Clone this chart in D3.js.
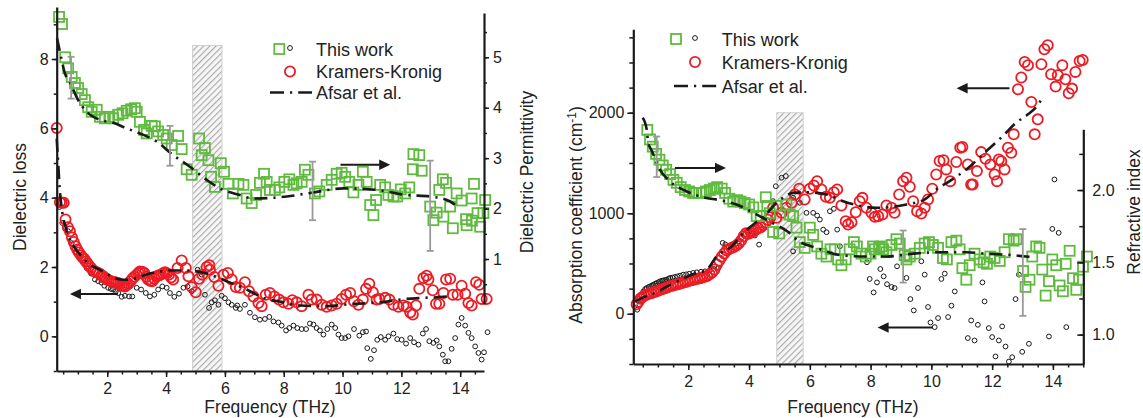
<!DOCTYPE html>
<html><head><meta charset="utf-8">
<script src="https://cdn.jsdelivr.net/npm/d3@7"></script>
<style>
body{margin:0;background:#fff}
text{font-family:"Liberation Sans",Arial,Helvetica,sans-serif;fill:#222}
</style>
</head><body>
<svg id="c" width="1143" height="418" xmlns="http://www.w3.org/2000/svg"></svg>
<script>
// ---------------- DATA (frequency THz, value) ----------------
// Left panel: dielectric permittivity (This work, right axis)
const permThisWork = [[0.36,5.80],[0.46,5.66],[0.57,5.00],[0.67,4.78],[0.79,4.61],[0.90,4.49],[1.01,4.39],[1.13,4.27],[1.24,4.15],[1.35,4.01],[1.47,3.92],[1.64,3.96],[1.75,3.82],[1.92,3.79],[2.07,3.82],[2.20,3.79],[2.37,3.86],[2.52,3.89],[2.66,3.94],[2.81,3.97],[2.94,3.99],[3.00,3.92],[3.11,3.72],[3.25,3.56],[3.34,3.49],[3.51,3.64],[3.62,3.63],[3.73,3.53],[3.90,3.46],[4.02,3.39],[4.19,3.26],[4.41,3.44],[4.53,3.18],[4.70,2.78],[4.87,2.67],[5.12,3.39],[5.21,3.06],[5.32,3.20],[5.44,2.96],[5.53,2.63],[5.66,2.43],[5.86,2.90],[5.97,2.73],[6.12,2.49],[6.27,2.30],[6.46,2.49],[6.63,2.47],[6.74,2.20],[6.91,2.11],[7.06,2.27],[7.19,2.51],[7.33,2.69],[7.42,2.53],[7.53,2.37],[7.70,2.37],[7.85,2.42],[8.02,2.53],[8.19,2.58],[8.33,2.47],[8.44,2.50],[8.61,2.53],[8.72,2.77],[8.84,2.67],[9.06,2.30],[9.21,2.34],[9.46,2.47],[9.63,2.57],[9.80,2.69],[9.97,2.71],[10.09,2.63],[10.23,2.53],[10.37,2.32],[10.54,2.47],[10.69,2.73],[10.82,2.53],[10.94,2.07],[11.05,1.87],[11.14,2.17],[11.28,2.47],[11.45,2.42],[11.56,2.27],[11.73,2.24],[11.86,2.24],[11.98,2.38],[12.13,2.30],[12.27,2.42],[12.39,2.78],[12.41,3.08],[12.61,3.06],[12.69,2.75],[12.98,2.04],[13.09,1.77],[13.20,1.92],[13.29,2.37],[13.41,2.58],[13.43,1.84],[13.52,2.51],[13.66,2.04],[13.75,1.61],[13.88,2.30],[14.05,2.16],[14.20,1.79],[14.22,1.67],[14.39,2.20],[14.40,1.76],[14.47,2.49],[14.59,1.91],[14.68,1.64],[14.79,1.91],[14.85,2.17]];
// Left panel: dielectric loss, Kramers-Kronig (left axis)
const lossKK = [[0.28,6.01],[0.39,3.87],[0.45,3.85],[0.52,3.85],[0.58,3.37],[0.66,3.15],[0.73,3.03],[0.80,2.85],[0.86,2.72],[0.92,2.60],[0.98,2.50],[1.04,2.42],[1.11,2.33],[1.17,2.27],[1.22,2.23],[1.28,2.16],[1.33,2.10],[1.39,2.03],[1.45,1.97],[1.52,1.90],[1.58,1.87],[1.66,1.84],[1.73,1.81],[1.80,1.76],[1.86,1.73],[1.92,1.68],[1.98,1.64],[2.05,1.62],[2.13,1.59],[2.19,1.57],[2.24,1.56],[2.30,1.55],[2.37,1.54],[2.43,1.50],[2.49,1.46],[2.55,1.45],[2.60,1.44],[2.66,1.48],[2.72,1.52],[2.79,1.59],[2.85,1.66],[2.92,1.72],[3.00,1.78],[3.06,1.83],[3.11,1.87],[3.19,1.86],[3.26,1.83],[3.33,1.72],[3.39,1.64],[3.46,1.60],[3.53,1.59],[3.60,1.66],[3.68,1.73],[3.76,1.76],[3.83,1.78],[3.90,1.82],[3.96,1.85],[4.03,1.82],[4.10,1.78],[4.17,1.70],[4.24,1.64],[4.39,1.97],[4.53,2.19],[4.67,1.97],[4.76,1.73],[4.87,1.42],[5.01,1.27],[5.12,1.66],[5.23,1.78],[5.38,2.00],[5.47,2.05],[5.49,1.92],[5.64,1.71],[5.78,1.46],[5.95,1.78],[6.10,1.83],[6.23,1.64],[6.37,1.42],[6.51,1.40],[6.68,1.56],[6.82,1.30],[6.97,1.15],[7.14,0.96],[7.25,0.87],[7.39,1.20],[7.53,1.25],[7.68,1.15],[7.84,1.06],[7.99,0.98],[8.16,0.94],[8.29,1.04],[8.44,0.98],[8.61,0.87],[8.84,1.20],[8.95,1.06],[9.12,1.06],[9.29,0.91],[9.46,0.85],[9.63,0.89],[9.80,0.94],[9.97,1.08],[10.12,1.20],[10.26,1.25],[10.39,1.01],[10.54,0.91],[10.69,1.06],[10.80,1.37],[10.91,1.52],[11.03,1.27],[11.16,1.06],[11.25,1.08],[11.45,1.11],[11.59,1.06],[11.73,0.91],[11.90,0.85],[12.07,0.89],[12.18,0.85],[12.30,0.69],[12.39,0.63],[12.50,0.89],[12.61,1.37],[12.75,1.68],[12.86,1.75],[12.92,1.64],[13.07,1.33],[13.18,0.94],[13.29,0.94],[13.43,1.25],[13.52,1.64],[13.66,1.66],[13.75,1.20],[13.91,1.20],[14.05,1.46],[14.17,1.23],[14.28,0.96],[14.39,0.89],[14.54,1.56],[14.65,1.49],[14.73,1.08],[14.90,1.08]];
// Left panel: dielectric loss, This work (left axis)
const lossThisWork = [[0.37,3.73],[0.47,3.27],[0.57,3.15],[0.67,3.03],[0.79,2.69],[0.92,2.45],[1.04,2.29],[1.18,2.12],[1.30,1.97],[1.45,1.81],[1.58,1.64],[1.69,1.59],[1.80,1.55],[1.90,1.46],[2.03,1.40],[2.12,1.37],[2.20,1.35],[2.29,1.30],[2.37,1.25],[2.49,1.14],[2.60,1.17],[2.74,1.15],[2.85,1.15],[3.00,1.40],[3.15,1.35],[3.31,1.25],[3.45,1.15],[3.60,1.20],[3.73,1.35],[3.87,1.44],[4.02,1.40],[4.13,1.25],[4.28,1.14],[4.44,1.23],[4.59,1.40],[4.73,1.44],[4.87,1.30],[5.07,1.92],[5.21,1.78],[5.32,1.20],[5.46,0.82],[5.55,0.98],[5.66,1.04],[5.78,0.91],[5.89,1.17],[6.00,1.10],[6.12,0.98],[6.23,0.91],[6.37,0.82],[6.42,0.89],[6.51,0.79],[6.68,0.91],[6.85,0.68],[7.02,0.55],[7.19,0.48],[7.36,0.50],[7.51,0.56],[7.65,0.43],[7.82,0.40],[7.93,0.31],[8.08,0.17],[8.19,0.24],[8.33,0.31],[8.46,0.24],[8.61,0.21],[8.76,0.21],[8.89,0.37],[9.01,0.34],[9.12,0.24],[9.23,0.17],[9.35,0.05],[9.48,0.21],[9.63,0.34],[9.75,0.24],[9.86,0.05],[9.97,-0.05],[10.09,-0.05],[10.20,0.00],[10.39,0.21],[10.57,0.02],[10.69,0.12],[10.80,0.14],[10.84,-0.34],[10.96,-0.65],[11.07,-0.40],[11.18,-0.10],[11.30,-0.02],[11.45,-0.10],[11.56,0.00],[11.73,0.08],[11.86,-0.08],[12.01,-0.10],[12.16,-0.21],[12.30,-0.05],[12.43,-0.17],[12.58,-0.24],[12.73,0.08],[12.84,0.21],[12.95,-0.14],[13.09,-0.19],[13.20,-0.12],[13.29,-0.29],[13.41,-0.53],[13.49,-0.72],[13.60,-0.72],[13.71,-0.36],[13.83,-0.05],[13.94,0.34],[14.05,0.53],[14.17,0.31],[14.28,0.10],[14.39,-0.05],[14.51,-0.29],[14.62,-0.48],[14.73,-0.67],[14.81,-0.46],[14.93,0.12]];
// Left panel: Afsar et al. curves
const permAfsar = [[0.29,5.38],[0.40,5.08],[0.56,4.68],[0.73,4.50],[1.01,4.15],[1.30,3.92],[1.75,3.76],[2.20,3.70],[2.66,3.59],[3.11,3.49],[3.68,3.33],[4.24,3.06],[4.81,2.83],[5.38,2.57],[5.83,2.40],[6.51,2.27],[6.97,2.20],[7.53,2.21],[8.10,2.24],[9.01,2.32],[10.03,2.40],[11.16,2.37],[12.18,2.27],[12.98,2.24],[13.66,2.14],[13.83,2.07]];
const lossAfsar = [[0.28,5.7],[0.33,5.0],[0.38,4.3],[0.45,3.70],[0.60,3.10],[0.73,2.79],[0.90,2.55],[1.07,2.36],[1.41,2.07],[1.75,1.92],[2.10,1.75],[2.43,1.64],[2.77,1.63],[3.10,1.72],[3.45,1.81],[3.80,1.87],[4.13,1.90],[4.70,1.90],[5.38,1.81],[6.06,1.59],[6.74,1.35],[7.31,1.11],[7.99,0.98],[8.55,0.89],[9.46,0.87],[10.37,0.94],[11.28,0.98],[12.18,1.08],[12.75,1.11],[13.43,1.14],[13.54,1.15]];
// Left panel: error bars on permittivity [freq, low, high]
const permErr = [[0.77,4.18,5.01],[4.13,2.85,3.64],[8.98,1.77,2.93],[12.98,1.16,2.95]];

// Right panel: refractive index, This work (right axis)
const nThisWork = [[0.65,2.416],[0.74,2.35],[0.83,2.30],[0.94,2.25],[1.05,2.21],[1.16,2.17],[1.27,2.14],[1.40,2.11],[1.51,2.07],[1.62,2.05],[1.75,2.02],[1.89,2.00],[2.03,1.99],[2.16,1.98],[2.27,1.98],[2.44,1.98],[2.58,1.99],[2.71,2.00],[2.84,2.01],[2.95,2.02],[3.10,2.01],[3.21,1.98],[3.35,1.94],[3.48,1.92],[3.61,1.93],[3.72,1.92],[3.86,1.91],[4.00,1.90],[4.14,1.88],[4.25,1.82],[4.38,1.82],[4.55,1.95],[4.60,1.89],[4.68,1.84],[4.79,1.71],[4.90,1.89],[4.99,1.70],[5.23,1.90],[5.34,1.83],[5.45,1.82],[5.56,1.74],[5.67,1.64],[5.83,1.60],[6.00,1.74],[6.11,1.69],[6.24,1.61],[6.38,1.56],[6.55,1.54],[6.68,1.59],[6.82,1.59],[6.93,1.52],[7.04,1.48],[7.18,1.52],[7.31,1.59],[7.45,1.64],[7.55,1.61],[7.70,1.56],[7.84,1.54],[8.00,1.56],[8.08,1.61],[8.14,1.59],[8.28,1.60],[8.36,1.61],[8.41,1.59],[8.52,1.57],[8.69,1.62],[8.85,1.66],[8.96,1.63],[9.12,1.55],[9.18,1.52],[9.29,1.54],[9.45,1.56],[9.62,1.60],[9.78,1.63],[9.92,1.64],[10.05,1.62],[10.22,1.60],[10.38,1.53],[10.51,1.52],[10.66,1.64],[10.82,1.65],[10.93,1.59],[11.02,1.46],[11.15,1.38],[11.26,1.48],[11.42,1.56],[11.59,1.52],[11.72,1.50],[11.83,1.49],[11.94,1.54],[12.08,1.53],[12.25,1.51],[12.41,1.57],[12.55,1.66],[12.71,1.65],[12.80,1.66],[13.02,1.44],[13.10,1.33],[13.23,1.38],[13.32,1.54],[13.45,1.61],[13.56,1.60],[13.65,1.45],[13.76,1.27],[13.87,1.37],[13.98,1.52],[14.11,1.48],[14.22,1.34],[14.33,1.30],[14.42,1.49],[14.55,1.58],[14.66,1.39],[14.77,1.31],[14.86,1.38],[14.99,1.47],[15.12,1.54]];
// Right panel: absorption coefficient, Kramers-Kronig (left axis)
const absKK = [[0.30,95],[0.36,120],[0.42,150],[0.48,165],[0.55,180],[0.62,190],[0.70,200],[0.78,205],[0.86,215],[0.94,222],[1.02,232],[1.10,240],[1.18,248],[1.26,256],[1.34,266],[1.42,276],[1.50,282],[1.58,288],[1.66,294],[1.74,302],[1.82,308],[1.90,316],[1.98,322],[2.06,330],[2.14,336],[2.22,342],[2.30,348],[2.38,354],[2.46,360],[2.54,368],[2.62,376],[2.70,392],[2.78,410],[2.86,440],[2.94,490],[3.02,530],[3.10,568],[3.18,600],[3.26,630],[3.34,645],[3.42,655],[3.50,665],[3.58,680],[3.66,700],[3.74,730],[3.82,770],[3.90,800],[3.98,795],[4.06,805],[4.14,820],[4.22,835],[4.30,850],[4.38,860],[4.46,880],[4.54,905],[4.62,935],[4.70,960],[4.79,1054],[4.90,954],[5.07,1004],[5.23,1054],[5.40,1104],[5.51,1186],[5.65,1243],[5.83,1137],[6.00,1243],[6.13,1276],[6.24,1319],[6.38,1236],[6.53,1163],[6.66,1154],[6.79,1209],[6.90,1236],[7.04,1077],[7.18,920],[7.26,887],[7.37,910],[7.51,1010],[7.64,1120],[7.73,1153],[7.86,1054],[8.03,1004],[8.14,964],[8.25,970],[8.39,987],[8.52,1077],[8.69,1054],[8.79,1004],[8.94,1186],[9.07,1319],[9.18,1353],[9.29,1263],[9.40,1120],[9.53,1020],[9.67,997],[9.78,1054],[9.89,1137],[10.03,1243],[10.16,1386],[10.27,1519],[10.40,1528],[10.49,1436],[10.62,1319],[10.82,1509],[10.95,1652],[11.02,1660],[11.20,1486],[11.31,1286],[11.36,1286],[11.50,1419],[11.64,1608],[11.78,1542],[11.94,1486],[12.08,1386],[12.16,1319],[12.22,1535],[12.30,1518],[12.41,1436],[12.52,1652],[12.63,1602],[12.71,1785],[12.85,2233],[12.96,2350],[13.07,2505],[13.18,2472],[13.29,2107],[13.40,1785],[13.50,1934],[13.62,2482],[13.72,2632],[13.83,2672],[13.94,2383],[14.09,2260],[14.16,2373],[14.31,2472],[14.41,2333],[14.52,2193],[14.63,2240],[14.74,2406],[14.88,2515],[14.98,2525]];
// Right panel: absorption coefficient, This work (left axis)
const absThisWork = [[0.32,40],[0.39,90],[0.46,180],[0.52,222],[0.58,245],[0.63,256],[0.69,265],[0.74,272],[0.80,280],[0.85,289],[0.91,298],[0.96,306],[1.02,314],[1.07,322],[1.13,328],[1.18,332],[1.24,336],[1.29,339],[1.35,348],[1.40,356],[1.48,360],[1.56,366],[1.64,372],[1.73,379],[1.83,389],[1.93,392],[2.03,398],[2.16,406],[2.28,412],[2.42,418],[2.55,422],[2.71,432],[2.85,445],[2.99,456],[3.13,705],[3.22,690],[3.31,671],[3.43,678],[3.55,690],[3.66,720],[3.76,760],[3.86,788],[3.97,805],[4.08,798],[4.19,778],[4.33,688],[4.46,844],[4.79,1120],[4.88,1269],[5.07,1353],[5.21,1370],[5.45,621],[5.45,1154],[5.67,1104],[5.89,1004],[6.11,1004],[6.24,977],[6.33,937],[6.44,837],[6.55,811],[6.66,1020],[6.79,1044],[6.90,837],[6.99,671],[7.88,512],[7.97,346],[8.10,212],[8.21,312],[8.32,445],[8.43,372],[8.54,294],[8.69,266],[8.79,256],[8.87,472],[9.18,356],[9.31,146],[9.42,33],[9.56,256],[9.67,522],[9.78,389],[9.89,67],[9.97,-87],[10.11,-133],[10.22,-43],[10.33,346],[10.44,399],[10.55,-33],[10.66,80],[10.77,222],[11.20,-242],[11.31,-67],[11.42,-266],[11.53,-110],[11.68,312],[11.75,123],[11.89,-143],[12.00,-232],[12.11,-425],[12.22,-266],[12.33,-126],[12.44,-326],[12.55,-476],[12.66,-432],[12.77,146],[12.88,389],[12.99,-379],[13.21,-299],[13.87,-226],[13.98,844],[14.05,1336],[14.19,805],[14.44,-133]];
// Right panel: Afsar et al. curves
const absAfsar = [[0.25,120],[0.57,170],[1.00,220],[1.23,260],[1.56,310],[2.13,390],[2.61,440],[2.93,570],[3.43,670],[3.80,800],[4.19,900],[4.50,970],[4.85,1087],[5.12,1154],[5.45,1203],[5.89,1209],[6.55,1186],[7.09,1120],[7.59,1077],[8.19,1054],[8.74,1064],[9.18,1087],[9.78,1137],[10.16,1236],[10.60,1319],[11.15,1436],[11.75,1602],[12.35,1768],[12.79,1901],[13.18,1984],[13.56,2101],[13.65,2150]];
const nAfsar = [[0.50,2.50],[0.63,2.42],[0.68,2.33],[0.80,2.27],[1.07,2.14],[1.40,2.06],[1.95,1.99],[2.49,1.95],[3.04,1.93],[3.59,1.90],[4.25,1.83],[4.79,1.77],[5.29,1.71],[5.61,1.65],[6.22,1.60],[6.99,1.55],[7.86,1.54],[8.52,1.54],[9.40,1.56],[10.27,1.57],[11.15,1.57],[11.81,1.56],[12.68,1.55],[13.12,1.54],[13.40,1.535]];
const nErr = [[0.96,2.09,2.37],[9.07,1.36,1.72],[13.01,1.13,1.73]];

// Tick labels
const freqTicks = [2,4,6,8,10,12,14];
const lossTicks = [0,2,4,6,8];
const permTicks = [1,2,3,4,5];
const absTicks = [0,1000,2000];
const nTicks = [1.0,1.5,2.0];
const legendLabels = ["This work","Kramers-Kronig","Afsar et al."];
// Shaded (hatched) band [from, to] in THz
const bandL = [4.9,5.9], bandR = [4.91,5.78];

// ---------------- STYLE ----------------
const GREEN = "#5fba3f", RED = "#ec1c24", BLACK = "#1a1a1a", GRAY = "#9a9a9a";
const FONT = '"Liberation Sans",Arial,sans-serif';
const SQ = 10;
const svg = d3.select("#c");
svg.append("rect").attr("width",1143).attr("height",418).attr("fill","#fff");

const defs = svg.append("defs");
const pat = defs.append("pattern").attr("id","hatch").attr("patternUnits","userSpaceOnUse")
  .attr("width",4.4).attr("height",4.4).attr("patternTransform","rotate(45)");
pat.append("rect").attr("width",4.4).attr("height",4.4).attr("fill","#f6f6f6");
pat.append("line").attr("x1",0).attr("y1",0).attr("x2",0).attr("y2",4.4).attr("stroke","#a8a8a8").attr("stroke-width",2.2);

// ---------------- SCALES ----------------
const xL = d3.scaleLinear().domain([0.28,14.81]).range([56.7,484]);
const yLoss = d3.scaleLinear().domain([-1,9.5]).range([371,7]);
const yPerm = d3.scaleLinear().domain([0.108,5.878]).range([304,13]);

const xR = d3.scaleLinear().domain([0.19,15]).range([633.3,1083.3]);
const yAbs = d3.scaleLinear().domain([-500,2830]).range([364,29.3]);
const yN = d3.scaleLinear().domain([0.797,2.42]).range([364,129.3]);

function range(a,b,s){const r=[];for(let v=a;v<=b+1e-9;v+=s)r.push(+v.toFixed(4));return r;}

function axis(gen, pos, scale, major, minor, fmt, size, minorSize, pad){
  const g = svg.append("g").attr("transform",pos);
  g.call(gen(scale).tickValues(minor).tickSize(minorSize).tickFormat(""));
  g.selectAll(".domain").remove();
  g.selectAll("line").attr("stroke",BLACK).attr("stroke-width",1.5);
  const g2 = svg.append("g").attr("transform",pos);
  g2.call(gen(scale).tickValues(major).tickSize(size).tickSizeOuter(0).tickPadding(pad).tickFormat(fmt));
  g2.select(".domain").attr("stroke",BLACK).attr("stroke-width",2.2);
  g2.selectAll("line").attr("stroke",BLACK).attr("stroke-width",1.5);
  g2.selectAll("text").attr("font-size",16).attr("font-family",FONT).attr("fill","#222");
  return g2;
}

// hatched bands
function band(x, y, b, top){
  svg.append("rect").attr("x",x(b[0])).attr("width",x(b[1])-x(b[0]))
    .attr("y",y(top)).attr("height",y.range()[0]-y(top))
    .attr("fill","url(#hatch)").attr("stroke","#d0d0d0").attr("stroke-width",1);
}
band(xL, yLoss, bandL, 8.39);
band(xR, yAbs, bandR, 2000);

// markers
function smallCircles(data,x,y){
  svg.append("g").selectAll("circle").data(data).join("circle")
    .attr("cx",d=>x(d[0])).attr("cy",d=>y(d[1])).attr("r",2.4)
    .attr("fill","none").attr("stroke",BLACK).attr("stroke-width",1);
}
function redCircles(data,x,y){
  svg.append("g").selectAll("circle").data(data).join("circle")
    .attr("cx",d=>x(d[0])).attr("cy",d=>y(d[1])).attr("r",5.1)
    .attr("fill","none").attr("stroke",RED).attr("stroke-width",1.8);
}
function squares(data,x,y){
  svg.append("g").selectAll("rect").data(data).join("rect")
    .attr("x",d=>x(d[0])-SQ/2).attr("y",d=>y(d[1])-SQ/2).attr("width",SQ).attr("height",SQ)
    .attr("fill","none").attr("stroke",GREEN).attr("stroke-width",1.8);
}
function afsar(data,x,y){
  svg.append("path").datum(data)
    .attr("d",d3.line().x(d=>x(d[0])).y(d=>y(d[1])).curve(d3.curveMonotoneX))
    .attr("fill","none").attr("stroke",BLACK).attr("stroke-width",2.6)
    .attr("stroke-dasharray","13,6,2.2,6");
}
function errbars(data,x,y){
  const g = svg.append("g").attr("stroke",GRAY).attr("stroke-width",1.8).attr("fill","none");
  data.forEach(d=>{
    const cx=x(d[0]);
    g.append("line").attr("x1",cx).attr("x2",cx).attr("y1",y(d[1])).attr("y2",y(d[2]));
    g.append("line").attr("x1",cx-3.5).attr("x2",cx+3.5).attr("y1",y(d[1])).attr("y2",y(d[1]));
    g.append("line").attr("x1",cx-3.5).attr("x2",cx+3.5).attr("y1",y(d[2])).attr("y2",y(d[2]));
  });
}
function arrow(x0,x1,yy){
  const dir = Math.sign(x1-x0), hl=11, hw=5.2;
  svg.append("line").attr("x1",x0).attr("x2",x1-dir*hl+dir).attr("y1",yy).attr("y2",yy)
    .attr("stroke",BLACK).attr("stroke-width",2);
  svg.append("path").attr("d",`M${x1},${yy}L${x1-dir*hl},${yy-hw}L${x1-dir*hl},${yy+hw}Z`).attr("fill",BLACK);
}

// Left panel marks
smallCircles(lossThisWork,xL,yLoss);
redCircles(lossKK,xL,yLoss);
squares(permThisWork,xL,yPerm);
afsar(permAfsar,xL,yPerm);
afsar(lossAfsar,xL,yLoss);
errbars(permErr,xL,yPerm);
arrow(xL(9.93),xL(11.62),yPerm(2.87));
arrow(xL(2.36),xL(0.73),yLoss(1.22));

// Right panel marks
smallCircles(absThisWork,xR,yAbs);
redCircles(absKK,xR,yAbs);
squares(nThisWork,xR,yN);
afsar(absAfsar,xR,yAbs);
afsar(nAfsar,xR,yN);
errbars(nErr,xR,yN);
arrow(xR(1.56),xR(3.24),yN(2.153));
arrow(xR(12.57),xR(10.83),yAbs(2243));
arrow(xR(10.04),xR(8.23),yAbs(-137));

// Axes left panel
axis(d3.axisLeft,"translate(56.7,0)",yLoss,lossTicks,range(-1,9,1),d3.format("d"),5,3,3);
axis(d3.axisBottom,"translate(0,371)",xL,freqTicks,range(0.5,14.5,0.5),d3.format("d"),6,3.5,6);
axis(d3.axisRight,"translate(484,0)",yPerm,permTicks,range(0.5,5.5,0.5),d3.format("d"),5,3,4);
// Axes right panel
axis(d3.axisLeft,"translate(633.3,0)",yAbs,absTicks,range(-500,2750,250),d3.format("d"),6,4,3);
axis(d3.axisBottom,"translate(0,364)",xR,freqTicks,range(0.5,15,0.5),d3.format("d"),6,3.5,6);
axis(d3.axisRight,"translate(1083.3,0)",yN,nTicks,range(1.0,2.25,0.25),d3.format(".1f"),-6,-4,9);

// Axis titles
function title(txt,x,y,rot){
  const t = svg.append("text").attr("transform",`translate(${x},${y})`+(rot?" rotate(-90)":""))
    .attr("text-anchor","middle").attr("font-size",17.5).attr("font-family",FONT).attr("fill","#222");
  if (Array.isArray(txt)) {
    t.append("tspan").text(txt[0]);
    t.append("tspan").attr("dy",-6).attr("font-size",12).text(txt[1]);
    t.append("tspan").attr("dy",6).text(txt[2]);
  } else t.text(txt);
}
title("Dielectric loss",26,197,true);
title("Frequency (THz)",270,413,false);
title("Dielectric Permittivity",533,172,true);
title(["Absorption coefficient (cm","-1",")"],582,215,true);
title("Frequency (THz)",853,413,false);
title("Refractive index",1140,212,true);

// Legends
function legend(sqX,cX,tX,yRows,lineX){
  svg.append("rect").attr("x",sqX-SQ/2).attr("y",yRows[0]-SQ/2).attr("width",SQ).attr("height",SQ)
    .attr("fill","none").attr("stroke",GREEN).attr("stroke-width",1.8);
  svg.append("circle").attr("cx",cX).attr("cy",yRows[0]-1).attr("r",2.4).attr("fill","none").attr("stroke",BLACK).attr("stroke-width",1);
  svg.append("circle").attr("cx",cX).attr("cy",yRows[1]).attr("r",5.1).attr("fill","none").attr("stroke",RED).attr("stroke-width",1.8);
  svg.append("line").attr("x1",lineX[0]).attr("x2",lineX[1]).attr("y1",yRows[2]).attr("y2",yRows[2])
    .attr("stroke",BLACK).attr("stroke-width",2.6).attr("stroke-dasharray","14,6,2.2,6");
  legendLabels.forEach((l,i)=>{
    svg.append("text").attr("x",tX).attr("y",yRows[i]+6.5).attr("font-size",18).attr("font-family",FONT).attr("fill","#222").text(l);
  });
}
legend(279.3,290,316,[49,71.5,92.5],[270,312]);
legend(676,695,721.7,[39,62,86],[674,717]);
</script>
</body></html>
